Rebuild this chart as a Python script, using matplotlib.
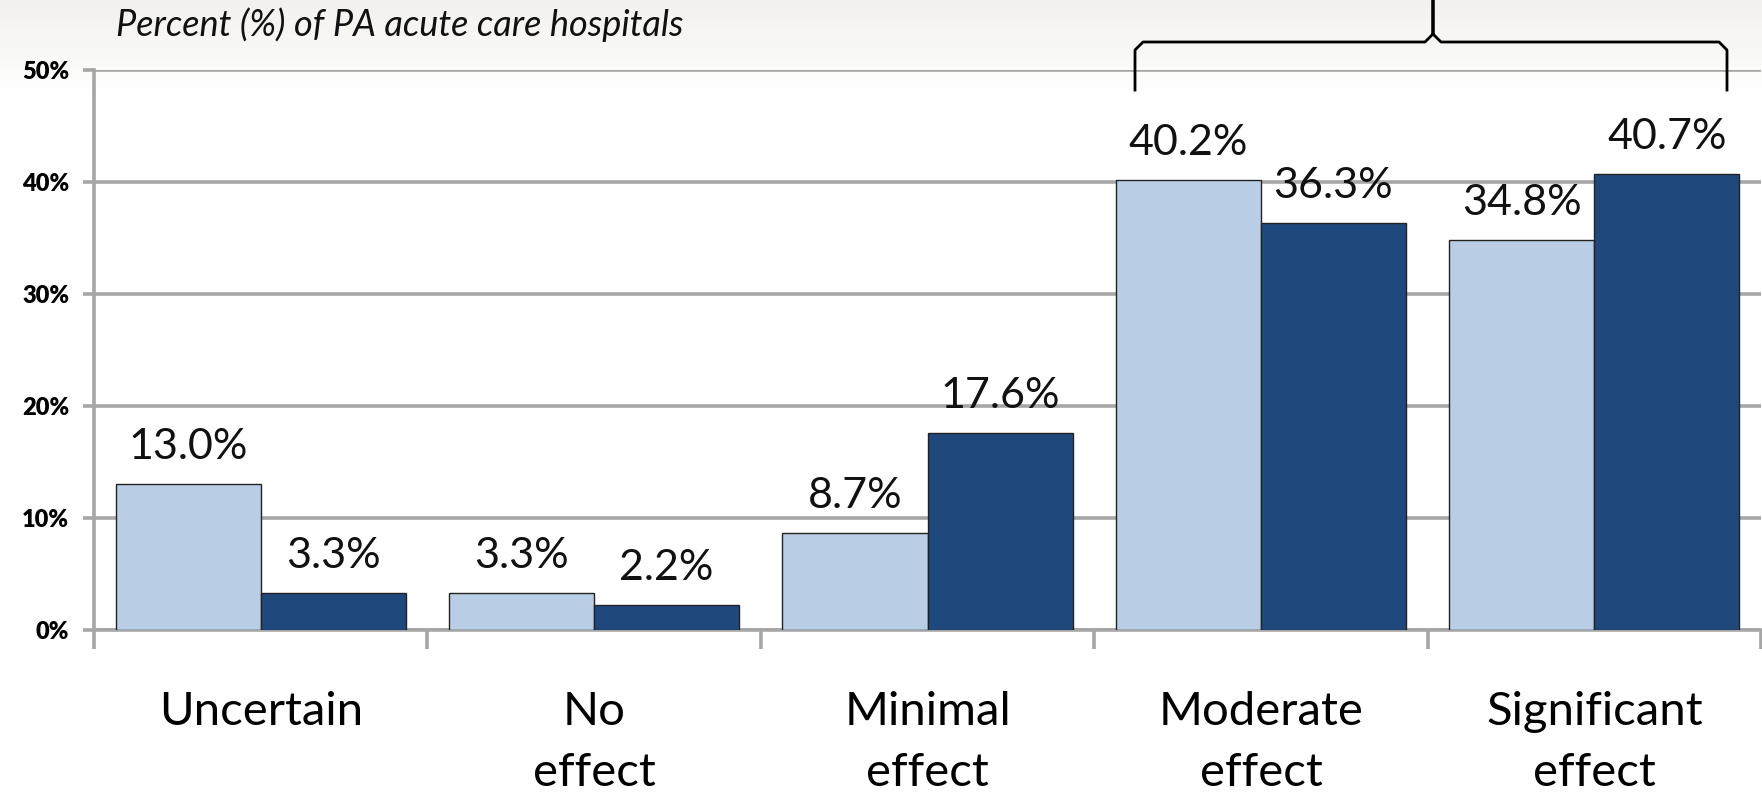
import numpy as np
import matplotlib.pyplot as plt
from matplotlib.ticker import FuncFormatter, FixedLocator

categories = ["Uncertain", "No\neffect", "Minimal\neffect", "Moderate\neffect", "Significant\neffect"]
series_light = [13.0, 3.3, 8.7, 40.2, 34.8]
series_dark = [3.3, 2.2, 17.6, 36.3, 40.7]
y_ticks = [0, 10, 20, 30, 40, 50]

light_col = "#b9cde5"
dark_col = "#1f497d"
grid_col = "#a6a6a6"
font = "Lato"

fig = plt.figure(figsize=(17.62, 7.93), dpi=100)

# faint grey band at the top of the slide
bg = fig.add_axes([0, 0, 1, 1], zorder=-10)
grad = np.linspace(0, 1, 256).reshape(-1, 1)
bg.imshow(grad, extent=[0, 1, 0.88, 1], aspect="auto", origin="lower",
          cmap=plt.matplotlib.colors.LinearSegmentedColormap.from_list("g", ["#ffffff", "#f2f1ec"]))
bg.set_xlim(0, 1)
bg.set_ylim(0, 1)
bg.axis("off")

ax = fig.add_axes([94 / 1762, 163 / 793, (1761 - 94) / 1762, 560 / 793])
ax.patch.set_alpha(0)

x = np.arange(len(categories))
w = 0.435
b1 = ax.bar(x - w / 2, series_light, w, color=light_col, edgecolor="#222222", linewidth=1.0, zorder=3)
b2 = ax.bar(x + w / 2, series_dark, w, color=dark_col, edgecolor="#222222", linewidth=1.0, zorder=3)

for bars, vals in [(b1, series_light), (b2, series_dark)]:
    for r, v in zip(bars, vals):
        ax.annotate("%.1f%%" % v, (r.get_x() + r.get_width() / 2, v),
                    xytext=(0, 13), textcoords="offset points",
                    ha="center", va="bottom", fontsize=31, family=font, color="#111111")

ax.set_xlim(-0.5, len(categories) - 0.5)
ax.set_ylim(0, 50)
ax.set_yticks(y_ticks)
ax.yaxis.set_major_formatter(FuncFormatter(lambda v, p: "%d%%" % v))
ax.grid(axis="y", color=grid_col, linewidth=2.6, zorder=0)
ax.set_axisbelow(True)

ax.set_xticks(x)
ax.set_xticklabels(categories, fontsize=34, family=font, linespacing=1.55)
ax.xaxis.set_minor_locator(FixedLocator(np.arange(len(categories) + 1) - 0.5))
ax.tick_params(axis="x", which="major", length=0, pad=44)
ax.tick_params(axis="x", which="minor", length=14, width=2.6, color=grid_col)
ax.tick_params(axis="y", length=8, width=2.6, color=grid_col, pad=10)
for lab in ax.get_yticklabels():
    lab.set_fontsize(17)
    lab.set_fontweight("heavy")
    lab.set_family(font)

for s in ["top", "right"]:
    ax.spines[s].set_visible(False)
for s in ["left", "bottom"]:
    ax.spines[s].set_color(grid_col)
    ax.spines[s].set_linewidth(2.6)

fig.text(116 / 1762, 1 - 25 / 793, "Percent (%) of PA acute care hospitals",
         fontsize=26, style="italic", family=font, va="center", ha="left", color="#111111")

# curly brace over moderate + significant
def fx(px):
    return px / 1762

def fy(py):
    return 1 - py / 793

xl, xm, xr = 1135, 1433, 1727
yb, yh, yt = 90, 42, 0
r = 8
brace_x = [xl, xl, xl + r, xm - r, xm, xm, xm, xm + r, xr - r, xr, xr]
brace_y = [yb, yh + r, yh, yh, yh - r, yt, yh - r, yh, yh, yh + r, yb]
fig.add_artist(plt.Line2D([fx(v) for v in brace_x], [fy(v) for v in brace_y],
                          color="black", linewidth=2.0, solid_joinstyle="round"))

fig.savefig("out.png", dpi=100)
